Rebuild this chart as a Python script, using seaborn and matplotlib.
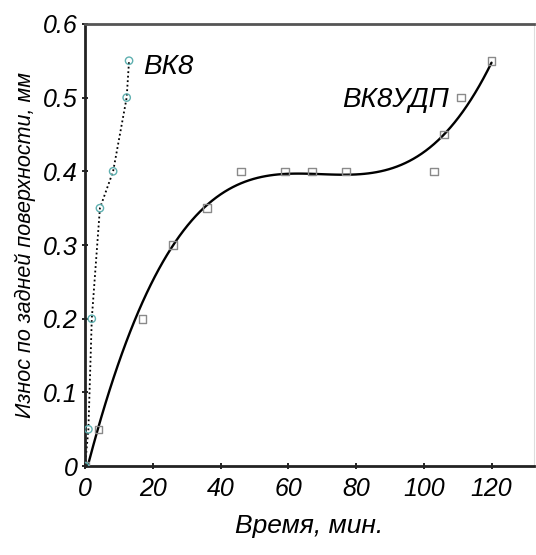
import matplotlib
matplotlib.use("Agg")
import matplotlib.pyplot as plt
import seaborn as sns
import numpy as np
import pandas as pd

# --- data ---
udp_time = [0, 4, 17, 26, 36, 46, 59, 67, 77, 103, 106, 111, 120]
udp_wear = [0, 0.05, 0.2, 0.3, 0.35, 0.4, 0.4, 0.4, 0.4, 0.4, 0.45, 0.5, 0.55]

vk8_time = [0, 1, 2, 4.4, 8.3, 12.3, 13]
vk8_wear = [0, 0.05, 0.2, 0.35, 0.4, 0.5, 0.55]

x_ticks = [0, 20, 40, 60, 80, 100, 120]
y_ticks = [0, 0.1, 0.2, 0.3, 0.4, 0.5, 0.6]
y_tick_labels = ["0", "0.1", "0.2", "0.3", "0.4", "0.5", "0.6"]

label_vk8 = "ВК8"
label_udp = "ВК8УДП"
x_label = "Время, мин."
y_label = "Износ по задней поверхности, мм"

sns.set_style("ticks")
plt.rcParams['font.family'] = ['Liberation Sans', 'DejaVu Sans']
plt.rcParams['font.style'] = 'italic'
for key in ["text.color", "axes.labelcolor", "xtick.color", "ytick.color"]:
    plt.rcParams[key] = "black"

udp = pd.DataFrame({"t": udp_time, "w": udp_wear})
vk8 = pd.DataFrame({"t": vk8_time, "w": vk8_wear})

fig = plt.figure(figsize=(5.36, 5.55), dpi=100)
ax = fig.add_axes([0.1586, 0.160, 0.8374, 0.797])

# fitted cubic trend for ВК8УДП
sns.regplot(data=udp, x="t", y="w", order=3, ci=None, scatter=False,
            line_kws=dict(color="black", lw=1.7), ax=ax, truncate=True)
sns.scatterplot(data=udp, x="t", y="w", marker="s", s=30,
                facecolor="none", edgecolor="#8a8a8a", linewidth=1.0, ax=ax, zorder=3)

# ВК8 dotted line and markers
sns.lineplot(data=vk8, x="t", y="w", sort=False, color="black", lw=1.3,
             linestyle=(0, (1, 1.5)), ax=ax)
sns.scatterplot(data=vk8, x="t", y="w", marker="o", s=28,
                facecolor="none", edgecolor="#5fb0b0", linewidth=1.0, ax=ax, zorder=3)

ax.set_xlim(0, 132.5)
ax.set_ylim(0, 0.6)
ax.set_xticks(x_ticks)
ax.set_xticklabels([str(v) for v in x_ticks])
ax.set_yticks(y_ticks)
ax.set_yticklabels(y_tick_labels)
ax.tick_params(axis="both", direction="inout", length=4, width=1.2,
               labelsize=18, pad=3, colors="black")
ax.tick_params(axis="x", pad=6)
for lab in ax.get_xticklabels() + ax.get_yticklabels():
    lab.set_fontstyle("italic")

ax.set_xlabel(x_label, fontsize=19, style="italic", labelpad=9)
ax.set_ylabel(y_label, fontsize=15.5, style="italic", labelpad=5)

for side in ["left", "bottom", "top"]:
    ax.spines[side].set_visible(True)
    ax.spines[side].set_linewidth(2.0)
    ax.spines[side].set_color("#222222")
ax.spines["top"].set_color("#555555")
ax.spines["right"].set_visible(True)
ax.spines["right"].set_linewidth(0.8)
ax.spines["right"].set_color("#dddddd")

ax.text(17.1, 0.542, label_vk8, fontsize=20, style="italic", va="center", ha="left")
ax.text(75.8, 0.497, label_udp, fontsize=20, style="italic", va="center", ha="left")

fig.savefig("out.png", dpi=100)
